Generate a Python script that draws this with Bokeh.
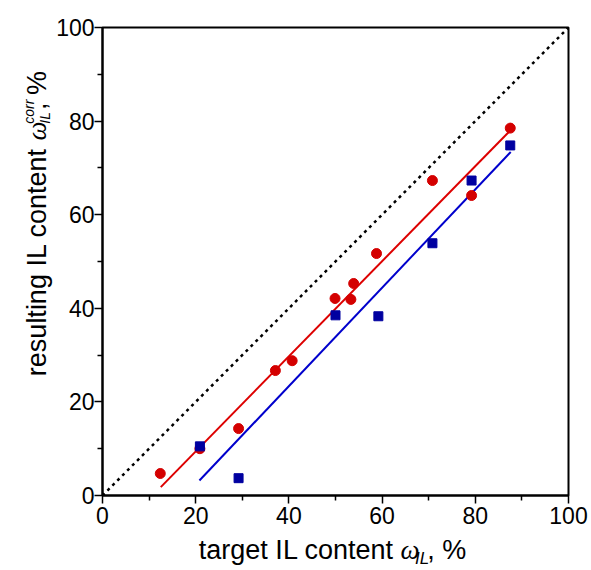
import math
from bokeh.plotting import figure
from bokeh.models import Range1d, Label, FixedTicker
from bokeh.layouts import row, column
from bokeh.embed import file_html
from bokeh.resources import INLINE

# ---- data ----
red_x = [12.4, 20.9, 29.2, 37.1, 40.7, 49.9, 53.3, 53.9, 58.8, 70.8, 79.2, 87.5]
red_y = [4.7, 10.0, 14.3, 26.7, 28.8, 42.1, 41.9, 45.3, 51.7, 67.3, 64.1, 78.5]
blue_x = [20.9, 29.2, 50.0, 59.2, 70.8, 79.2, 87.5]
blue_y = [10.5, 3.7, 38.5, 38.3, 53.9, 67.3, 74.8]
red_fit_x = [12.5, 87.4]
red_fit_y = [1.8, 77.9]
blue_fit_x = [20.8, 87.6]
blue_fit_y = [3.2, 73.4]
diag_x = [0, 100]
diag_y = [0, 100]
ticks = [0, 20, 40, 60, 80, 100]
minor = [10, 30, 50, 70, 90]

W, H = 591, 570
WL = 53          # width of the y-label strip
HP = 534         # height of main plot
FL, FR, FT = 99, 568, 27
FB = 495

p = figure(width=W - WL, height=HP, output_backend="svg", toolbar_location=None,
           x_range=Range1d(0, 100), y_range=Range1d(0, 100),
           min_border_left=FL - WL, min_border_right=W - FR, min_border_top=FT,
           min_border_bottom=HP - FB)
p.background_fill_color = "white"
p.border_fill_color = "white"
p.xgrid.visible = False
p.ygrid.visible = False
p.outline_line_color = "black"
p.outline_line_width = 2

for ax in (p.xaxis[0], p.yaxis[0]):
    ax.ticker = FixedTicker(ticks=ticks, minor_ticks=minor)
    ax.major_tick_out = 8
    ax.major_tick_in = 0
    ax.minor_tick_out = 5
    ax.minor_tick_in = 0
    ax.axis_line_width = 2
    ax.major_tick_line_width = 1.5
    ax.minor_tick_line_width = 1.5
    ax.axis_line_color = "black"
    ax.major_tick_line_color = "black"
    ax.minor_tick_line_color = "black"
    ax.major_label_text_font = "Liberation Sans"
    ax.major_label_text_font_size = "23px"
    ax.major_label_text_color = "black"
p.xaxis[0].major_label_standoff = 3
p.yaxis[0].major_label_standoff = 0

p.line(diag_x, diag_y, line_color="black", line_width=2.5, line_dash="3 4")
p.line(red_fit_x, red_fit_y, line_color="#DD0000", line_width=2)
p.line(blue_fit_x, blue_fit_y, line_color="#0000CC", line_width=2)
p.scatter(red_x, red_y, marker="circle", size=10, fill_color="#D40000", line_color="#D40000")
p.scatter(blue_x, blue_y, marker="square", size=9, fill_color="#0000A0", line_color="#0000A0")


def strip(w, h, x0):
    f = figure(width=w, height=h, output_backend="svg", toolbar_location=None,
               x_range=Range1d(x0, x0 + w), y_range=Range1d(0, h),
               x_axis_location=None, y_axis_location=None,
               min_border_left=0, min_border_right=0, min_border_top=0, min_border_bottom=0)
    f.xgrid.visible = False
    f.ygrid.visible = False
    f.outline_line_color = None
    f.background_fill_color = "white"
    f.border_fill_color = "white"
    return f


ylab = strip(WL, H, 0)
xlab = strip(W - WL, H - HP, WL)

# ---- axis labels built from pieces ----
AW = {' ': 278, 'a': 556, 'c': 500, 'e': 556, 'g': 556, 'i': 222, 'l': 222, 'n': 556,
      'o': 556, 'r': 333, 's': 500, 't': 278, 'u': 556, 'I': 278, 'L': 556, ',': 278, '%': 889}
MID = 0.3465  # distance from baseline to centre of text box, in em


def tw(s, size):
    return sum(AW.get(ch, 556) for ch in s) / 1000.0 * size


def lab(fig, xp, yp, text, size, font="Liberation Sans", style="normal",
        vertical=False, align="left"):
    # (xp, yp): point on the baseline in page pixels
    if vertical:
        xp = xp - MID * size
        ang = math.pi / 2
    else:
        yp = yp - MID * size
        ang = 0.0
    fig.add_layout(Label(x=xp, y=H - yp, text=text, text_font=font,
                         text_font_size=f"{size}px", text_font_style=style,
                         text_color="black", text_align=align, text_baseline="middle",
                         angle=ang))


F = 27
SUB = 17
OMEGA_W = 0.62 * F
SP = tw(" ", F)

# x label: anchored at the omega
xo, base = 397, 559
lab(xlab, xo - SP, base, "target IL content", F, align="right")
lab(xlab, xo, base, "ω", F, font="Liberation Serif", style="italic")
xs = xo + OMEGA_W
lab(xlab, xs, base + 5, "IL", SUB, style="italic")
xc = xs + tw("IL", SUB)
lab(xlab, xc, base, ", %", F)

# y label (rotated, reading upward), anchored at the omega
YS = 14
yo, bx = 140, 46
lab(ylab, bx, yo + SP, "resulting IL content", F, vertical=True, align="right")
lab(ylab, bx, yo, "ω", F, font="Liberation Serif", style="italic", vertical=True)
ys = yo - OMEGA_W
lab(ylab, bx - 13, ys, "corr", YS, style="italic", vertical=True)
lab(ylab, bx + 3, ys, "IL", YS, style="italic", vertical=True)
yc = ys - tw("IL", YS) - 2
lab(ylab, bx, yc, ", %", F, vertical=True)

layout = row(ylab, column(p, xlab, spacing=0), spacing=0)
open("out.html", "w").write(file_html(layout, INLINE))
